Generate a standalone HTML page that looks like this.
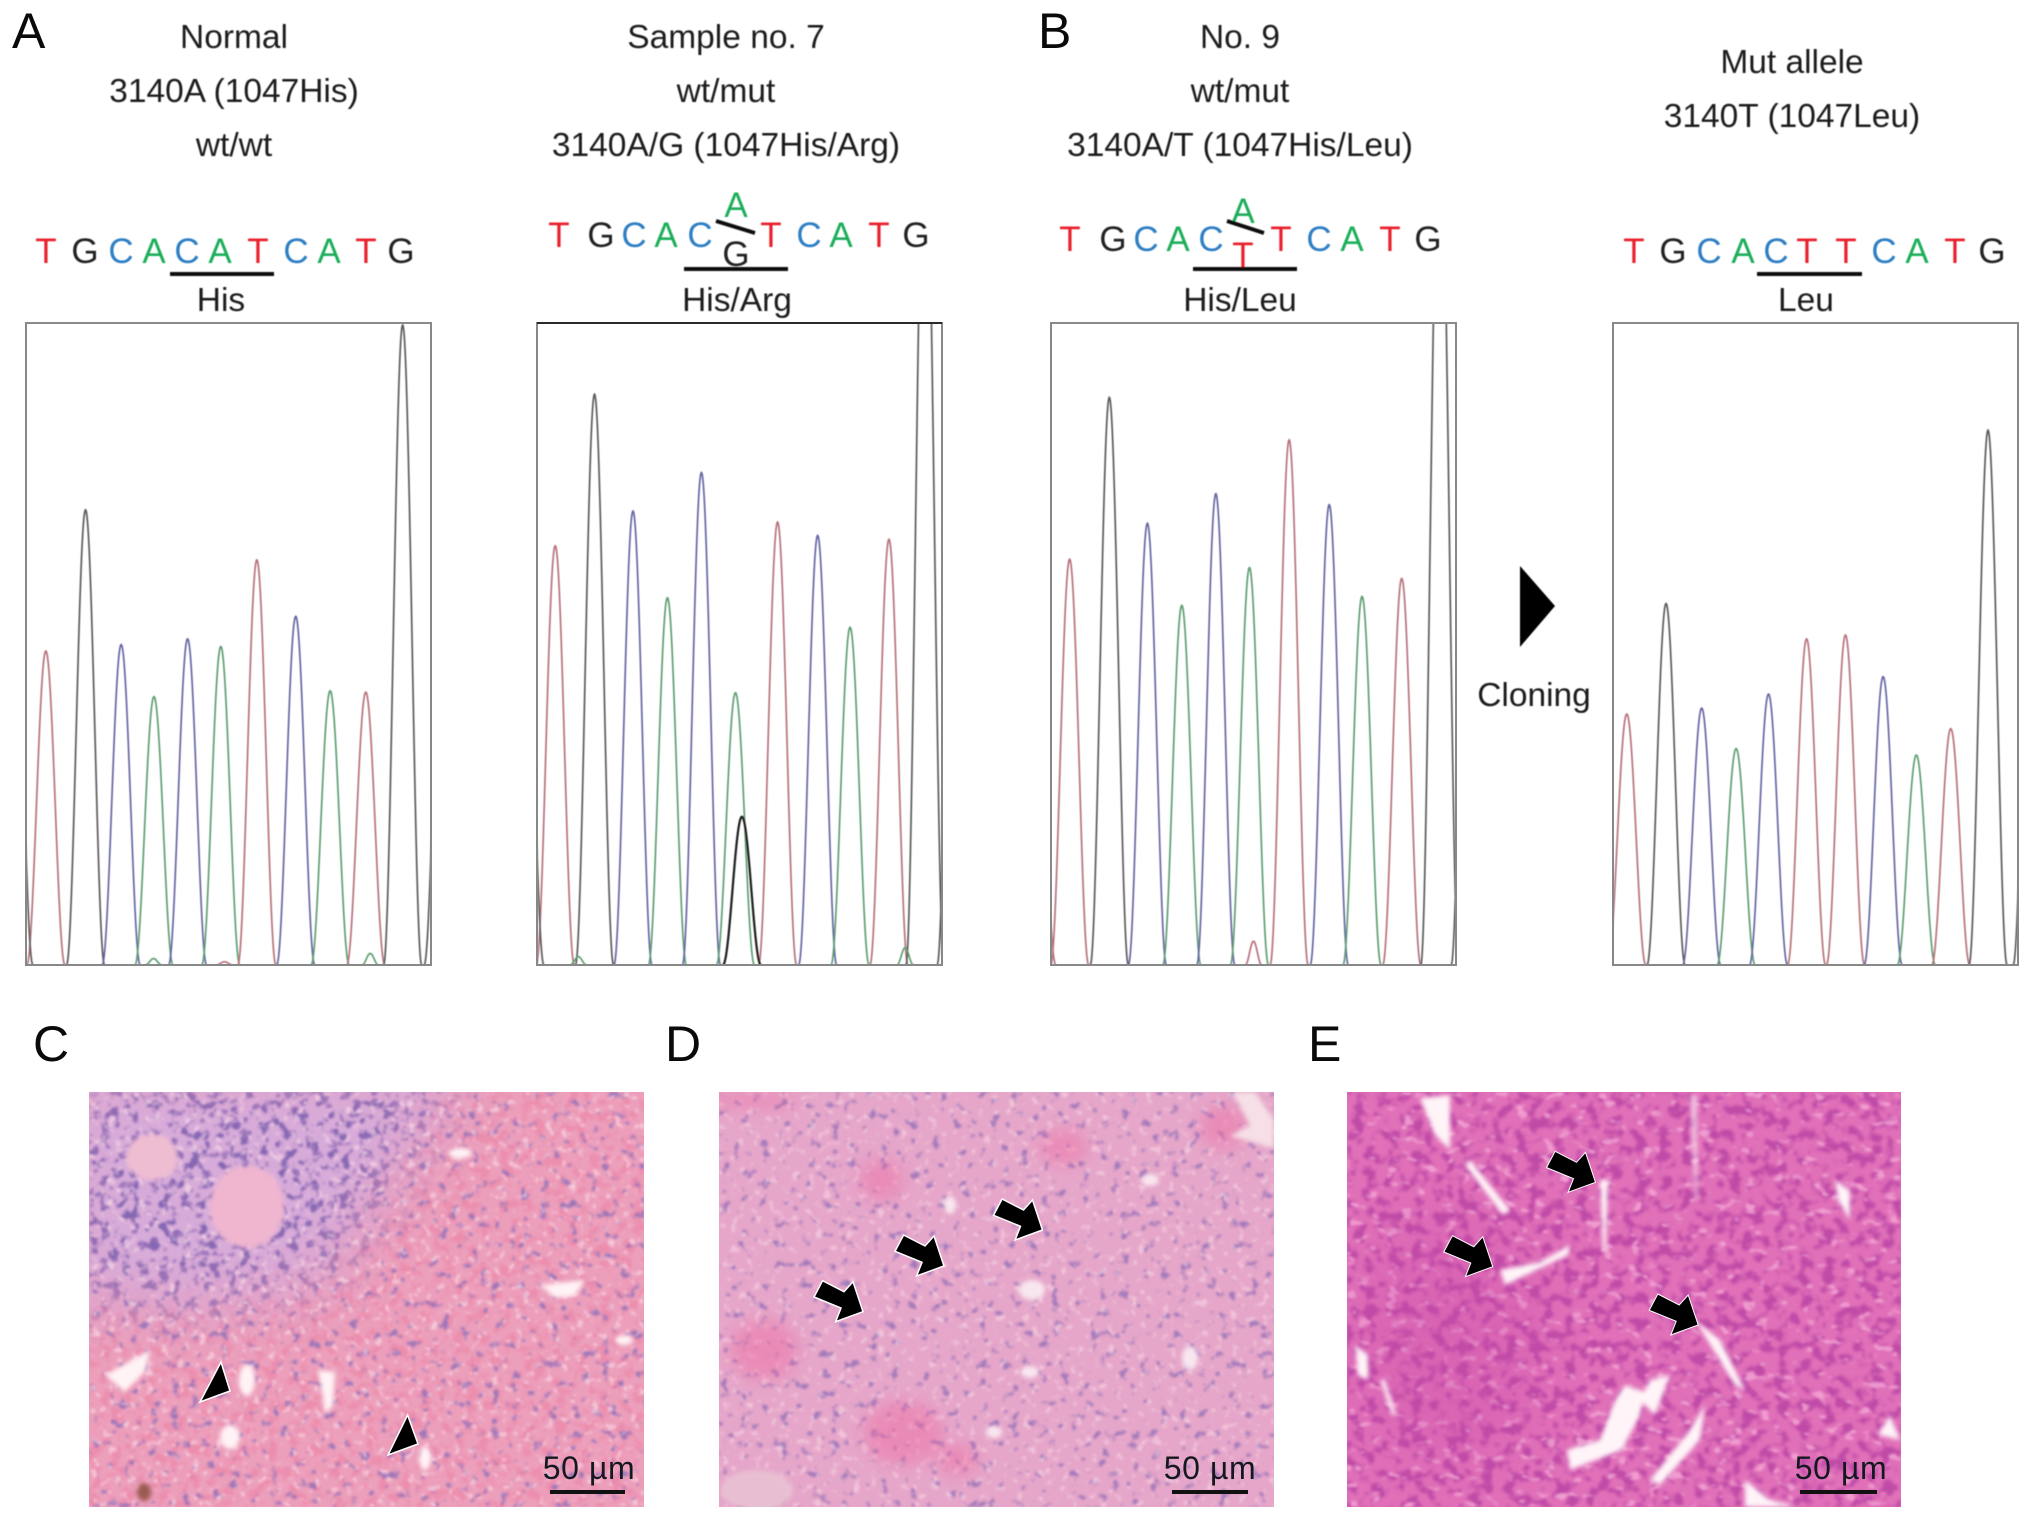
<!DOCTYPE html>
<html lang="en">
<head>
<meta charset="utf-8">
<title>Sequencing chromatograms and histology</title>
<style>
html,body{margin:0;padding:0;background:#fff;}
svg{display:block;}
text{font-family:"Liberation Sans",sans-serif;fill:#1e1e1e;}
.cap{font-size:33.5px;text-anchor:middle;}
.seq{font-size:35px;text-anchor:middle;}
.letter{font-size:50px;fill:#0a0a0a;}
.scale{font-size:32px;text-anchor:middle;fill:#14181f;letter-spacing:.6px;}
.T{fill:#e8222e;}.G{fill:#222;}.C{fill:#2f7fc4;}.A{fill:#1fae5a;}
</style>
</head>
<body>
<svg id="figure" xmlns="http://www.w3.org/2000/svg" width="2032" height="1521" viewBox="0 0 2032 1521">
<defs>
  <filter id="soft" x="-5%" y="-5%" width="110%" height="110%"><feGaussianBlur stdDeviation="0.55"/></filter>
  <filter id="blur8" x="-30%" y="-30%" width="160%" height="160%"><feGaussianBlur stdDeviation="8"/></filter>
  <filter id="blur3" x="-30%" y="-30%" width="160%" height="160%"><feGaussianBlur stdDeviation="2.5"/></filter>
  <filter id="blur30" x="-30%" y="-30%" width="160%" height="160%"><feGaussianBlur stdDeviation="30"/></filter>

  <filter id="nucPurple" x="0" y="0" width="1" height="1" color-interpolation-filters="sRGB">
    <feTurbulence type="fractalNoise" baseFrequency=".1" numOctaves="2" seed="4"/>
    <feColorMatrix type="matrix" values="0 0 0 0 .52  0 0 0 0 .40  0 0 0 0 .70  7 0 0 0 -3.75"/>
    <feGaussianBlur stdDeviation="1"/>
  </filter>
  <filter id="nucSparse" x="0" y="0" width="1" height="1" color-interpolation-filters="sRGB">
    <feTurbulence type="fractalNoise" baseFrequency=".1" numOctaves="2" seed="11"/>
    <feColorMatrix type="matrix" values="0 0 0 0 .60  0 0 0 0 .45  0 0 0 0 .72  7 0 0 0 -4.3"/>
    <feGaussianBlur stdDeviation="1"/>
  </filter>
  <filter id="redCells" x="0" y="0" width="1" height="1" color-interpolation-filters="sRGB">
    <feTurbulence type="fractalNoise" baseFrequency=".09" numOctaves="3" seed="8"/>
    <feColorMatrix type="matrix" values="0 0 0 0 .93  0 0 0 0 .50  0 0 0 0 .64  5 0 0 0 -2.4"/>
    <feGaussianBlur stdDeviation="1.1"/>
  </filter>
  <filter id="whiteGaps" x="0" y="0" width="1" height="1" color-interpolation-filters="sRGB">
    <feTurbulence type="fractalNoise" baseFrequency=".13" numOctaves="2" seed="21"/>
    <feColorMatrix type="matrix" values="0 0 0 0 .99  0 0 0 0 .88  0 0 0 0 .92  7 0 0 0 -4.2"/>
    <feGaussianBlur stdDeviation="1"/>
  </filter>
  <filter id="nucMagenta" x="0" y="0" width="1" height="1" color-interpolation-filters="sRGB">
    <feTurbulence type="fractalNoise" baseFrequency=".085" numOctaves="2" seed="15"/>
    <feColorMatrix type="matrix" values="0 0 0 0 .72  0 0 0 0 .26  0 0 0 0 .64  6 0 0 0 -2.9"/>
    <feGaussianBlur stdDeviation="1.3"/>
  </filter>
  <filter id="gapsMagenta" x="0" y="0" width="1" height="1" color-interpolation-filters="sRGB">
    <feTurbulence type="fractalNoise" baseFrequency=".07 .11" numOctaves="2" seed="31"/>
    <feColorMatrix type="matrix" values="0 0 0 0 .96  0 0 0 0 .66  0 0 0 0 .84  8 0 0 0 -4.9"/>
    <feGaussianBlur stdDeviation="1.1"/>
  </filter>

  <clipPath id="clipC"><rect x="89" y="1092" width="555" height="415"/></clipPath>
  <clipPath id="clipD"><rect x="719" y="1092" width="555" height="415"/></clipPath>
  <clipPath id="clipE"><rect x="1347" y="1092" width="554" height="415"/></clipPath>

  <mask id="purpleMask" maskUnits="userSpaceOnUse" x="89" y="1092" width="555" height="415">
    <rect x="89" y="1092" width="555" height="415" fill="#000"/>
    <polygon points="60,1070 470,1070 400,1170 330,1280 200,1310 60,1300" fill="#fff" filter="url(#blur30)"/>
  </mask>
</defs>

<!-- Panel letters -->
<text class="letter" x="12" y="48">A</text>
<text class="letter" x="1038" y="48">B</text>
<text class="letter" x="33" y="1061">C</text>
<text class="letter" x="665" y="1061">D</text>
<text class="letter" x="1308" y="1061">E</text>

<g filter="url(#soft)">
  <!-- Captions -->
  <g>
    <text class="cap" x="234" y="48">Normal</text>
    <text class="cap" x="234" y="102">3140A (1047His)</text>
    <text class="cap" x="234" y="156">wt/wt</text>
  </g>
  <g>
    <text class="cap" x="726" y="48">Sample no. 7</text>
    <text class="cap" x="726" y="102">wt/mut</text>
    <text class="cap" x="726" y="156">3140A/G (1047His/Arg)</text>
  </g>
  <g>
    <text class="cap" x="1240" y="48">No. 9</text>
    <text class="cap" x="1240" y="102">wt/mut</text>
    <text class="cap" x="1240" y="156">3140A/T (1047His/Leu)</text>
  </g>
  <g>
    <text class="cap" x="1792" y="73">Mut allele</text>
    <text class="cap" x="1792" y="127">3140T (1047Leu)</text>
  </g>

  <!-- Sequence 1 -->
  <g>
    <text class="seq T" x="46" y="263">T</text>
    <text class="seq G" x="85" y="263">G</text>
    <text class="seq C" x="121" y="263">C</text>
    <text class="seq A" x="154" y="263">A</text>
    <text class="seq C" x="187" y="263">C</text>
    <text class="seq A" x="220" y="263">A</text>
    <text class="seq T" x="258" y="263">T</text>
    <text class="seq C" x="296" y="263">C</text>
    <text class="seq A" x="329" y="263">A</text>
    <text class="seq T" x="366" y="263">T</text>
    <text class="seq G" x="401" y="263">G</text>
    <rect x="170" y="272" width="104" height="4" fill="#111"/>
    <text class="cap" x="221" y="311">His</text>
  </g>

  <!-- Sequence 2 -->
  <g>
    <text class="seq T" x="559" y="247">T</text>
    <text class="seq G" x="601" y="247">G</text>
    <text class="seq C" x="634" y="247">C</text>
    <text class="seq A" x="666" y="247">A</text>
    <text class="seq C" x="700" y="247">C</text>
    <text class="seq A" x="736" y="217">A</text>
    <line x1="716" y1="221" x2="755" y2="233" stroke="#111" stroke-width="4"/>
    <text class="seq G" x="736" y="266">G</text>
    <text class="seq T" x="771" y="247">T</text>
    <text class="seq C" x="809" y="247">C</text>
    <text class="seq A" x="841" y="247">A</text>
    <text class="seq T" x="879" y="247">T</text>
    <text class="seq G" x="916" y="247">G</text>
    <rect x="684" y="267" width="104" height="4" fill="#111"/>
    <text class="cap" x="737" y="311">His/Arg</text>
  </g>

  <!-- Sequence 3 -->
  <g>
    <text class="seq T" x="1070" y="251">T</text>
    <text class="seq G" x="1113" y="251">G</text>
    <text class="seq C" x="1146" y="251">C</text>
    <text class="seq A" x="1178" y="251">A</text>
    <text class="seq C" x="1211" y="251">C</text>
    <text class="seq A" x="1243" y="223">A</text>
    <line x1="1227" y1="221" x2="1264" y2="233" stroke="#111" stroke-width="4"/>
    <text class="seq T" x="1243" y="267">T</text>
    <text class="seq T" x="1281" y="251">T</text>
    <text class="seq C" x="1319" y="251">C</text>
    <text class="seq A" x="1352" y="251">A</text>
    <text class="seq T" x="1390" y="251">T</text>
    <text class="seq G" x="1428" y="251">G</text>
    <rect x="1193" y="267" width="104" height="4" fill="#111"/>
    <text class="cap" x="1240" y="311">His/Leu</text>
  </g>

  <!-- Sequence 4 -->
  <g>
    <text class="seq T" x="1634" y="263">T</text>
    <text class="seq G" x="1673" y="263">G</text>
    <text class="seq C" x="1709" y="263">C</text>
    <text class="seq A" x="1743" y="263">A</text>
    <text class="seq C" x="1776" y="263">C</text>
    <text class="seq T" x="1807" y="263">T</text>
    <text class="seq T" x="1846" y="263">T</text>
    <text class="seq C" x="1884" y="263">C</text>
    <text class="seq A" x="1917" y="263">A</text>
    <text class="seq T" x="1955" y="263">T</text>
    <text class="seq G" x="1992" y="263">G</text>
    <rect x="1757" y="272" width="105" height="4" fill="#111"/>
    <text class="cap" x="1806" y="311">Leu</text>
  </g>

  <polygon points="1520,566 1555,606 1520,647" fill="#000"/>
  <text class="cap" x="1534" y="706">Cloning</text>
</g>

<!-- Chromatograms (filled by script) -->
<g id="chromatograms"></g>

<!-- Histology C -->
<g clip-path="url(#clipC)">
  <rect x="89" y="1092" width="555" height="415" fill="#ec9fbb"/>
  <rect x="89" y="1092" width="555" height="415" filter="url(#redCells)" opacity=".55"/>
  <g mask="url(#purpleMask)">
    <rect x="89" y="1092" width="555" height="415" fill="#d7abd9"/>
    <rect x="89" y="1092" width="555" height="415" filter="url(#nucPurple)"/>
  </g>
  <rect x="89" y="1092" width="555" height="415" filter="url(#nucSparse)" opacity=".9"/>
  <rect x="89" y="1092" width="555" height="415" filter="url(#whiteGaps)" opacity=".6"/>
  <ellipse cx="152" cy="1157" rx="26" ry="23" fill="#efbdd2" filter="url(#blur3)"/>
  <ellipse cx="247" cy="1207" rx="37" ry="41" fill="#f0b6cf" filter="url(#blur3)"/>
  <g fill="#fff3f5" filter="url(#blur3)">
    <path d="M540,1285 L585,1280 L575,1296 L555,1298 Z"/>
    <path d="M195,1375 L240,1350 L235,1372 L215,1392 Z" transform="translate(-90,0)"/>
    <path d="M318,1370 L335,1372 L333,1405 L326,1415 Z"/>
    <ellipse cx="247" cy="1380" rx="8" ry="16"/>
    <ellipse cx="230" cy="1437" rx="10" ry="12"/>
    <ellipse cx="460" cy="1153" rx="12" ry="5"/>
    <ellipse cx="624" cy="1340" rx="9" ry="5"/>
    <ellipse cx="425" cy="1458" rx="6" ry="12"/>
  </g>
  <ellipse cx="144" cy="1492" rx="7" ry="9" fill="#9a5a50" filter="url(#blur3)"/>
  <g stroke="#fff" stroke-width="1.5" fill="#000">
    <polygon points="221,1362 230,1391 200,1402"/>
    <polygon points="407.6,1415 418,1444 388,1455"/>
  </g>
  <text class="scale" x="589" y="1479">50 µm</text>
  <rect x="550" y="1490" width="75" height="4" fill="#111"/>
</g>

<!-- Histology D -->
<g clip-path="url(#clipD)">
  <rect x="719" y="1092" width="555" height="415" fill="#e6a6c9"/>
  <rect x="719" y="1092" width="555" height="415" filter="url(#nucSparse)" opacity=".85"/>
  <rect x="719" y="1092" width="555" height="415" filter="url(#whiteGaps)" opacity=".5"/>
  <g fill="#ee6aa0" opacity=".45" filter="url(#blur8)">
    <ellipse cx="1224" cy="1127" rx="24" ry="22"/>
    <ellipse cx="764" cy="1350" rx="34" ry="30"/>
    <ellipse cx="903" cy="1433" rx="40" ry="32"/>
    <ellipse cx="881" cy="1180" rx="22" ry="20"/>
    <ellipse cx="1063" cy="1147" rx="24" ry="18"/>
    <ellipse cx="750" cy="1100" rx="50" ry="8"/>
    <ellipse cx="958" cy="1460" rx="20" ry="16"/>
  </g>
  <polygon points="1232,1092 1255,1092 1274,1120 1274,1148 1230,1136 1250,1125" fill="#f6dfe6" filter="url(#blur3)"/>
  <g fill="#fbeef3" opacity=".9" filter="url(#blur3)">
    <ellipse cx="1032" cy="1290" rx="13" ry="10"/>
    <ellipse cx="1030" cy="1372" rx="9" ry="6"/>
    <ellipse cx="1190" cy="1358" rx="8" ry="12"/>
    <ellipse cx="994" cy="1432" rx="8" ry="6"/>
    <ellipse cx="950" cy="1205" rx="6" ry="9"/>
    <ellipse cx="1150" cy="1180" rx="9" ry="6"/>
  </g>
  <ellipse cx="757" cy="1490" rx="36" ry="20" fill="#e8bfd2" filter="url(#blur3)"/>
  <g fill="#000" stroke="#fff" stroke-width="1.5">
    <polygon points="822.6,1280.7 844,1291.7 853,1281.7 863,1311.7 835.6,1321.7 841,1308 814,1297"/>
    <polygon transform="translate(81,-45.7)" points="822.6,1280.7 844,1291.7 853,1281.7 863,1311.7 835.6,1321.7 841,1308 814,1297"/>
    <polygon transform="translate(179.5,-81.7)" points="822.6,1280.7 844,1291.7 853,1281.7 863,1311.7 835.6,1321.7 841,1308 814,1297"/>
  </g>
  <text class="scale" x="1210" y="1479">50 µm</text>
  <rect x="1172" y="1490" width="76" height="4" fill="#111"/>
</g>

<!-- Histology E -->
<g clip-path="url(#clipE)">
  <rect x="1347" y="1092" width="554" height="415" fill="#e070b8"/>
  <rect x="1347" y="1092" width="554" height="415" filter="url(#nucMagenta)" opacity=".8"/>
  <rect x="1347" y="1092" width="554" height="415" filter="url(#gapsMagenta)" opacity=".8"/>
  <ellipse cx="1450" cy="1340" rx="90" ry="120" fill="#c84aa8" opacity=".3" filter="url(#blur30)"/>
  <g fill="#fff4f8" filter="url(#blur3)">
    <path d="M1567,1450 L1600,1440 L1615,1400 L1625,1385 L1645,1392 L1640,1415 L1622,1450 L1570,1470 Z"/>
    <path d="M1650,1380 L1670,1375 L1655,1415 L1640,1400 Z"/>
    <path d="M1650,1480 L1690,1430 L1705,1405 L1700,1440 L1660,1485 Z"/>
    <path d="M1745,1480 L1770,1500 L1800,1507 L1745,1507 Z"/>
    <path d="M1420,1098 L1450,1095 L1450,1150 L1435,1135 Z"/>
    <path d="M1465,1165 L1470,1160 L1510,1210 L1503,1215 Z"/>
    <path d="M1600,1180 L1608,1180 L1606,1250 L1603,1250 Z"/>
    <path d="M1690,1095 L1697,1095 L1698,1200 L1695,1200 Z" opacity=".6"/>
    <path d="M1695,1320 L1720,1340 L1745,1390 L1735,1385 Z"/>
    <path d="M1500,1270 L1540,1262 L1570,1245 L1568,1255 L1520,1278 L1505,1285 Z"/>
    <path d="M1355,1345 L1368,1355 L1368,1380 L1358,1375 Z"/>
    <path d="M1878,1435 L1890,1415 L1900,1440 Z"/>
    <path d="M1380,1380 L1385,1380 L1396,1415 L1392,1415 Z"/>
    <path d="M1835,1180 L1850,1190 L1850,1220 L1838,1200 Z"/>
  </g>
  <g fill="#000" stroke="#fff" stroke-width="1">
    <polygon transform="translate(732.5,-129.4)" points="822.6,1280.7 844,1291.7 853,1281.7 863,1311.7 835.6,1321.7 841,1308 814,1297"/>
    <polygon transform="translate(629.8,-45)" points="822.6,1280.7 844,1291.7 853,1281.7 863,1311.7 835.6,1321.7 841,1308 814,1297"/>
    <polygon transform="translate(835.2,13.3)" points="822.6,1280.7 844,1291.7 853,1281.7 863,1311.7 835.6,1321.7 841,1308 814,1297"/>
  </g>
  <text class="scale" x="1841" y="1479">50 µm</text>
  <rect x="1800" y="1490" width="77" height="4" fill="#111"/>
</g>
</svg>

<script>
// ---- Chromatogram data: scan position (% of window) and signal intensity (% of window height) ----
const normalBases     = ['T','G','C','A','C','A','T','C','A','T','G','G','G'];
const normalScan      = [4.9,14.7,23.5,31.6,39.9,48.1,57.0,66.6,75.1,83.9,93.0,-3,103];
const normalIntensity = [48.9,70.9,49.9,41.8,50.8,49.6,63.1,54.3,42.7,42.5,99.7,60,60];
const normalMinorBases     = ['A','A','T'];
const normalMinorScan      = [31.5,85.0,49.0];
const normalMinorIntensity = [1.0,1.8,0.5];

const sample7Bases     = ['T','G','C','A','C','A','T','C','A','T','G','G','G'];
const sample7Scan      = [4.5,14.2,23.7,32.2,40.6,49.0,59.4,69.3,77.3,86.9,95.8,-3,103.5];
const sample7Intensity = [65.3,88.9,70.7,57.2,76.7,42.4,69.0,66.9,52.6,66.3,135,60,90];
const sample7MinorBases     = ['A','A'];
const sample7MinorScan      = [90.9,10.2];
const sample7MinorIntensity = [2.7,1.3];
const sample7OverlayScan      = [50.6];
const sample7OverlayIntensity = [23.1];

const no9Bases     = ['T','G','C','A','C','A','T','C','A','T','G','G','T'];
const no9Scan      = [4.6,14.4,23.8,32.3,40.7,49.0,58.8,68.7,76.8,86.6,96.0,103.5,-3.5];
const no9Intensity = [63.2,88.4,68.8,56.0,73.4,61.9,81.8,71.7,57.4,60.2,135,90,40];
const no9MinorBases     = ['T'];
const no9MinorScan      = [50.0];
const no9MinorIntensity = [3.7];

const mutBases     = ['T','G','C','A','C','T','T','C','A','T','G','G'];
const mutScan      = [3.4,13.1,21.9,30.4,38.4,47.8,57.4,66.7,74.9,83.4,92.6,103.5];
const mutIntensity = [39.1,56.3,40.0,33.7,42.2,50.8,51.4,44.9,32.7,36.8,83.3,70];

const traceColors = {T:'#b8727c', G:'#5c5c5c', C:'#6666a4', A:'#5f9f72'};

// ---- Chart windows ----
const windows = [
  {key:'normal',  left:26,   bases:normalBases,  scan:normalScan,  signal:normalIntensity,
   minorBases:normalMinorBases, minorScan:normalMinorScan, minorSignal:normalMinorIntensity, topStroke:'#8a8a8a'},
  {key:'sample-7',left:537,  bases:sample7Bases, scan:sample7Scan, signal:sample7Intensity,
   minorBases:sample7MinorBases, minorScan:sample7MinorScan, minorSignal:sample7MinorIntensity,
   overlayScan:sample7OverlayScan, overlaySignal:sample7OverlayIntensity, topStroke:'#2a2a2a'},
  {key:'no-9',    left:1051, bases:no9Bases,     scan:no9Scan,     signal:no9Intensity,
   minorBases:no9MinorBases, minorScan:no9MinorScan, minorSignal:no9MinorIntensity, topStroke:'#8a8a8a'},
  {key:'mut-allele',left:1613,bases:mutBases,    scan:mutScan,     signal:mutIntensity,
   minorBases:[], minorScan:[], minorSignal:[], topStroke:'#8a8a8a'}
];

const NS = 'http://www.w3.org/2000/svg';
const plotTop = 323, plotBottom = 965, plotWidth = 405;
const PEAK_HALF_WIDTH = 4.7, MINOR_HALF_WIDTH = 2.0;

function xAxis(win, v){ return win.left + v / 100 * plotWidth; }
function yAxis(v){ return plotBottom - v / 100 * (plotBottom - plotTop); }

function peakPath(win, center, height, halfWidth){
  const pts = [];
  const step = 0.1;
  for (let d = -halfWidth; d <= halfWidth + 1e-6; d += step){
    const c = Math.cos(Math.PI * d / (2 * halfWidth));
    pts.push(xAxis(win, center + d).toFixed(2) + ',' + yAxis(height * c * c).toFixed(2));
  }
  return 'M' + pts.join('L');
}

const root = document.getElementById('chromatograms');

windows.forEach(function(win){
  const g = document.createElementNS(NS, 'g');
  
  

  const clipId = 'clip-' + win.key;
  const clip = document.createElementNS(NS, 'clipPath');
  clip.setAttribute('id', clipId);
  const clipRect = document.createElementNS(NS, 'rect');
  clipRect.setAttribute('x', win.left);
  clipRect.setAttribute('y', plotTop);
  clipRect.setAttribute('width', plotWidth);
  clipRect.setAttribute('height', plotBottom - plotTop);
  clip.appendChild(clipRect);
  g.appendChild(clip);

  const traces = document.createElementNS(NS, 'g');
  traces.setAttribute('clip-path', 'url(#' + clipId + ')');
  traces.setAttribute('filter', 'url(#soft)');
  
  

  win.bases.forEach(function(base, i){
    const p = document.createElementNS(NS, 'path');
    p.setAttribute('d', peakPath(win, win.scan[i], win.signal[i], PEAK_HALF_WIDTH));
    p.setAttribute('fill', 'none');
    p.setAttribute('stroke', traceColors[base]);
    p.setAttribute('stroke-width', '1.7');
    
    
    traces.appendChild(p);
  });

  win.minorBases.forEach(function(base, i){
    const p = document.createElementNS(NS, 'path');
    p.setAttribute('d', peakPath(win, win.minorScan[i], win.minorSignal[i], MINOR_HALF_WIDTH));
    p.setAttribute('fill', 'none');
    p.setAttribute('stroke', traceColors[base]);
    p.setAttribute('stroke-width', '1.7');
    
    
    traces.appendChild(p);
  });

  (win.overlayScan || []).forEach(function(center, i){
    const p = document.createElementNS(NS, 'path');
    p.setAttribute('d', peakPath(win, center, win.overlaySignal[i], PEAK_HALF_WIDTH));
    p.setAttribute('fill', 'none');
    p.setAttribute('stroke', '#1c1c1c');
    p.setAttribute('stroke-width', '2.2');
    
    
    traces.appendChild(p);
  });

  g.appendChild(traces);

  const frame = document.createElementNS(NS, 'rect');
  frame.setAttribute('x', win.left);
  frame.setAttribute('y', plotTop);
  frame.setAttribute('width', plotWidth);
  frame.setAttribute('height', plotBottom - plotTop);
  frame.setAttribute('fill', 'none');
  frame.setAttribute('stroke', '#888');
  frame.setAttribute('stroke-width', '2');
  
  
  g.appendChild(frame);

  const topLine = document.createElementNS(NS, 'line');
  topLine.setAttribute('x1', win.left);
  topLine.setAttribute('x2', win.left + plotWidth);
  topLine.setAttribute('y1', plotTop);
  topLine.setAttribute('y2', plotTop);
  topLine.setAttribute('stroke', win.topStroke);
  topLine.setAttribute('stroke-width', '2');
  
  
  g.appendChild(topLine);

  root.appendChild(g);
});
</script>
</body>
</html>
